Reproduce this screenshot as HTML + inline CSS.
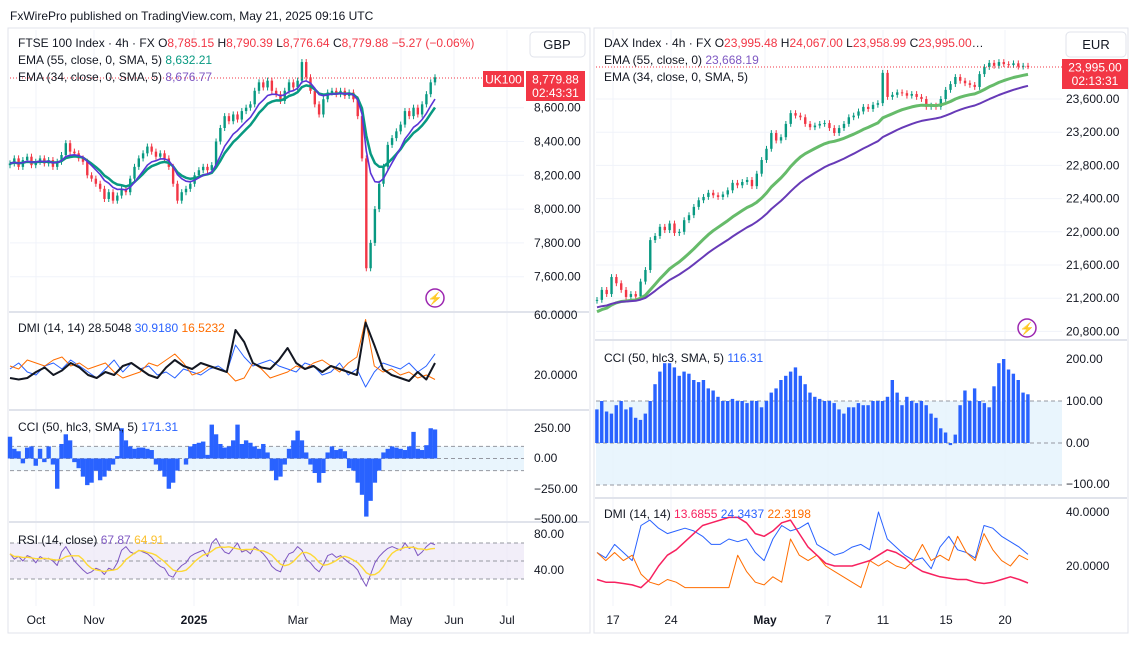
<!DOCTYPE html>
<html><head><meta charset="utf-8"><style>
body{margin:0;background:#fff;}
svg{display:block;font-family:"Liberation Sans",sans-serif;}
</style></head><body>
<svg id="c" width="1130" height="647" viewBox="0 0 1130 647" xmlns="http://www.w3.org/2000/svg">
<rect x="0" y="0" width="1130" height="647" fill="#fff"/>
<text x="10" y="20" font-size="12" fill="#131722">FxWirePro published on TradingView.com, May 21, 2025 09:16 UTC</text>
<rect x="8" y="28" width="582" height="605" fill="none" stroke="#e0e3eb"/>
<rect x="594" y="28" width="534" height="605" fill="none" stroke="#e0e3eb"/>
<g id="grid"></g>
<g id="marks"></g>
<g id="labels" font-size="12" fill="#131722"></g>
<!-- legends -->
<g font-size="12">
<text x="18" y="47" fill="#131722">FTSE 100 Index · 4h · FX  <tspan fill="#131722">O</tspan><tspan fill="#f23645">8,785.15</tspan> <tspan fill="#131722">H</tspan><tspan fill="#f23645">8,790.39</tspan> <tspan fill="#131722">L</tspan><tspan fill="#f23645">8,776.64</tspan> <tspan fill="#131722">C</tspan><tspan fill="#f23645">8,779.88 −5.27 (−0.06%)</tspan></text>
<text x="18" y="64" fill="#131722">EMA (55, close, 0, SMA, 5) <tspan fill="#089981">8,632.21</tspan></text>
<text x="18" y="81" fill="#131722">EMA (34, close, 0, SMA, 5) <tspan fill="#7e57c2">8,676.77</tspan></text>
<text x="18" y="332" fill="#131722">DMI (14, 14) 28.5048 <tspan fill="#2962ff">30.9180</tspan> <tspan fill="#ff6d00">16.5232</tspan></text>
<text x="18" y="431" fill="#131722">CCI (50, hlc3, SMA, 5) <tspan fill="#2962ff">171.31</tspan></text>
<text x="18" y="544" fill="#131722">RSI (14, close) <tspan fill="#7e57c2">67.87</tspan> <tspan fill="#fbc02d">64.91</tspan></text>
</g>
<g font-size="12">
<text x="604" y="47" fill="#131722">DAX Index · 4h · FX  O<tspan fill="#f23645">23,995.48</tspan> H<tspan fill="#f23645">24,067.00</tspan> L<tspan fill="#f23645">23,958.99</tspan> C<tspan fill="#f23645">23,995.00</tspan>…</text>
<text x="604" y="64" fill="#131722">EMA (55, close, 0) <tspan fill="#7e57c2">23,668.19</tspan></text>
<text x="604" y="81" fill="#131722">EMA (34, close, 0, SMA, 5)</text>
<text x="604" y="362" fill="#131722">CCI (50, hlc3, SMA, 5) <tspan fill="#2962ff">116.31</tspan></text>
<text x="604" y="518" fill="#131722">DMI (14, 14) <tspan fill="#f7215f">13.6855</tspan> <tspan fill="#2962ff">24.3437</tspan> <tspan fill="#ff6d00">22.3198</tspan></text>
</g>
<!-- currency buttons -->
<g><rect x="530" y="32" width="55" height="25" rx="4" fill="#fff" stroke="#e0e3eb"/><text x="557" y="49" font-size="13" text-anchor="middle" fill="#131722">GBP</text></g>
<g><rect x="1066" y="32" width="60" height="25" rx="4" fill="#fff" stroke="#e0e3eb"/><text x="1096" y="49" font-size="13" text-anchor="middle" fill="#131722">EUR</text></g>
<!-- price labels -->
<g><rect x="483" y="71" width="41" height="16" fill="#f23645"/><text x="503.5" y="83.5" font-size="12" text-anchor="middle" fill="#fff">UK100</text></g>
<g><rect x="526" y="71" width="59" height="30" fill="#f23645"/><text x="555.5" y="83.5" font-size="12" text-anchor="middle" fill="#fff">8,779.88</text><text x="555.5" y="97" font-size="12" text-anchor="middle" fill="#fff">02:43:31</text></g>
<g><rect x="1062" y="59" width="66" height="30" fill="#f23645"/><text x="1095" y="71.5" font-size="12" text-anchor="middle" fill="#fff">23,995.00</text><text x="1095" y="85" font-size="12" text-anchor="middle" fill="#fff">02:13:31</text></g>
<!-- lightning icons -->
<g><circle cx="435" cy="298" r="9" fill="#fff" stroke="#9c27b0" stroke-width="1.5"/><text x="435" y="302.5" font-size="12" text-anchor="middle" fill="#9c27b0">⚡</text></g>
<g><circle cx="1027" cy="328" r="9" fill="#fff" stroke="#9c27b0" stroke-width="1.5"/><text x="1027" y="332.5" font-size="12" text-anchor="middle" fill="#9c27b0">⚡</text></g>
</svg>
<script>
// ---------- FTSE data ----------
const ftseCloses=[8270,8300,8250,8290,8310,8260,8280,8300,8270,8290,8250,8280,8320,8390,8340,8330,8300,8280,8200,8180,8150,8120,8060,8100,8050,8080,8120,8100,8180,8250,8300,8330,8370,8340,8310,8330,8300,8250,8150,8050,8100,8120,8150,8200,8230,8250,8230,8260,8400,8480,8550,8520,8560,8530,8580,8600,8620,8700,8750,8720,8760,8700,8680,8640,8700,8750,8720,8760,8870,8780,8700,8620,8560,8650,8690,8700,8680,8700,8670,8690,8650,8550,8300,7650,7800,8000,8150,8250,8380,8420,8460,8500,8580,8550,8600,8560,8620,8680,8750,8780];
const ftseTicks=[8600,8400,8200,8000,7800,7600];
const ftseAdx=[18,17,18,22,25,20,23,28,25,20,18,22,20,26,28,24,20,18,25,30,26,24,28,26,24,22,50,42,28,25,24,30,38,28,24,26,22,26,24,22,20,55,40,24,20,18,16,22,17,28];
const ftsePdi=[24,28,22,20,26,28,24,30,26,22,18,24,30,22,28,24,26,20,22,18,24,22,20,24,26,22,40,32,26,28,30,26,24,22,28,26,20,22,28,20,24,12,22,28,26,24,28,22,26,34];
const ftseMdi=[26,24,30,28,26,30,32,26,28,24,26,28,22,18,20,22,28,26,30,34,28,20,22,26,24,22,16,18,28,24,18,20,22,26,24,28,30,26,22,28,32,57,26,22,24,20,22,18,20,17];
const ftseCci=[180,80,60,-40,90,100,-60,80,-30,100,-50,-250,120,200,150,-30,-80,-150,-220,-200,-100,-180,-150,-100,-50,20,250,150,100,80,90,90,80,70,-50,-100,-150,-250,-200,-100,0,-50,100,120,130,140,30,280,200,120,90,100,150,280,120,150,130,100,80,120,50,-100,-180,-150,-50,80,150,230,150,50,-50,-120,-200,-120,50,100,70,80,60,-80,-100,-200,-300,-480,-350,-200,-100,50,80,100,90,80,70,100,220,80,70,110,250,240];
const ftseRsi=[58,52,55,50,56,54,48,55,52,53,50,45,60,66,58,50,45,40,36,38,42,40,35,42,40,48,62,66,60,58,62,60,58,54,48,44,42,34,32,40,45,48,55,58,60,62,55,70,75,66,60,58,64,70,60,62,58,66,62,58,52,44,40,38,50,58,60,66,62,52,48,42,38,46,56,58,54,56,52,48,45,40,30,22,35,48,55,60,64,66,64,62,70,64,66,56,60,66,70,68];
const ftseXLabels=["Oct","Nov","2025","Mar","May","Jun","Jul"];
const ftseXLabelPos=[36,94,194,298,401,454,507];
// ---------- DAX data ----------
const daxCloses=[21180,21300,21250,21455,21380,21300,21215,21250,21220,21400,21540,21900,21950,22060,22020,22100,21985,22000,22140,22200,22300,22380,22420,22470,22440,22420,22450,22500,22590,22560,22600,22625,22550,22700,22865,23000,23190,23100,23140,23300,23430,23400,23380,23300,23260,23280,23300,23310,23250,23190,23250,23300,23380,23400,23450,23505,23480,23530,23550,23915,23625,23650,23680,23670,23640,23660,23625,23600,23505,23520,23505,23600,23710,23780,23865,23820,23790,23770,23745,23900,23985,24035,24000,24045,24020,24010,24030,23990,24000,23995];
const daxTicks=[23600,23200,22800,22400,22000,21600,21200,20800];
const daxCci=[80,100,75,70,90,100,80,85,60,55,70,100,140,170,190,190,180,160,170,165,150,145,150,130,125,110,100,100,105,100,100,95,100,100,85,100,120,130,150,160,170,180,160,140,120,110,105,100,100,95,80,70,85,85,95,90,90,100,100,100,110,150,120,90,110,100,95,100,90,70,60,35,25,-5,20,90,125,100,130,100,95,85,135,190,200,175,165,150,120,116];
const daxAdx=[15,14,14,13.5,13,12,15,20,24,26,29,32,35,36,37,38,38,36,32,31,33,36,37,32,27,24,21,20,20,20,21,22,24,26,25,23,20,18,17,16,15.5,15,15,14,13.5,14,15,16,15,13.7];
const daxPdi=[25,23,28,25,22,35,37,34,32,33,34,33,31,28,28,30,29,30,25,22,30,35,33,34,36,28,26,24,25,27,28,26,40,30,27,24,22,23,19,27,31,26,25,23,35,34,31,29,27,24.3];
const daxMdi=[25,22,25,22,24,17,14,13,15,14,12,12,12,12,12,12,24,18,14,13,16,14,30,24,22,24,20,18,16,14,12,22,20,22,20,19,22,28,22,24,22,31,25,22,32,26,22,20,24,22.3];
const daxXLabels=["17","24","May","7","11","15","20"];
const daxXLabelPos=[613,671,765,828,883,946,1005];

const NS="http://www.w3.org/2000/svg";
const G=document.getElementById('grid'),M=document.getElementById('marks'),L=document.getElementById('labels');
function mk(tag,attrs,parent){const e=document.createElementNS(NS,tag);for(const k in attrs)e.setAttribute(k,attrs[k]);parent.appendChild(e);return e;}
function txt(s,x,y,attrs,parent){const e=mk('text',Object.assign({x:x,y:y},attrs||{}),parent||L);e.textContent=s;return e;}
function line(x1,y1,x2,y2,st,parent){return mk('line',Object.assign({x1:x1,y1:y1,x2:x2,y2:y2},st),parent||G);}
function poly(vals,xf,yf,color,w,name){
  const pts=vals.map((v,i)=>xf(i,vals.length).toFixed(1)+','+yf(v).toFixed(1)).join(' ');
  const p=mk('polyline',{points:pts,fill:'none',stroke:color,'stroke-width':w,'stroke-linejoin':'round'},M);
  
  
  return p;
}
function ema(vals,a,seed){const out=[];let e=seed;vals.forEach(v=>{e=a*v+(1-a)*e;out.push(e);});return out;}
function sma(vals,n){return vals.map((v,i)=>{let s=0,c=0;for(let j=Math.max(0,i-n+1);j<=i;j++){s+=vals[j];c++;}return s/c;});}

const LX0=10,LX1=435,LR=524;
const xL=(i,n)=>LX0+i*(LX1-LX0)/(n-1);
const yLP=p=>107.7+(8600-p)*0.169;
const yLD=v=>375-(v-20)*1.5;
const yLC=v=>458.5-v*0.121;
const yLR=v=>570-(v-40)*0.9;
const RX0=597,RX1=1028,RR=1062;
const xR=(i,n)=>RX0+i*(RX1-RX0)/(n-1);
const yRP=p=>99+(23600-p)*0.0830;
const yRC=v=>443-v*0.42;
const yRD=v=>566-(v-20)*2.7;

ftseXLabelPos.forEach(x=>line(x,30,x,606,{stroke:'#f0f3fa'}));
daxXLabelPos.forEach(x=>line(x,30,x,606,{stroke:'#f0f3fa'}));
ftseTicks.forEach(t=>line(10,yLP(t),LR,yLP(t),{stroke:'#f0f3fa'}));
daxTicks.forEach(t=>line(596,yRP(t),RR,yRP(t),{stroke:'#f0f3fa'}));
[312,410,522].forEach(y=>line(9,y,589,y,{stroke:'#e0e3eb','stroke-width':2}));
[340,498].forEach(y=>line(595,y,1127,y,{stroke:'#e0e3eb','stroke-width':2}));
mk('rect',{x:10,y:yLC(100),width:LR-10,height:yLC(-100)-yLC(100),fill:'#e3f2fd',opacity:0.8},G);
mk('rect',{x:10,y:yLR(70),width:LR-10,height:yLR(30)-yLR(70),fill:'#ede7f6',opacity:0.7},G);
mk('rect',{x:596,y:yRC(100),width:RR-596,height:yRC(-100)-yRC(100),fill:'#e3f2fd',opacity:0.8},G);
[100,0,-100].forEach(v=>line(10,yLC(v),LR,yLC(v),{stroke:'#9598a1','stroke-dasharray':'4,3'}));
[70,50,30].forEach(v=>line(10,yLR(v),LR,yLR(v),{stroke:'#9598a1','stroke-dasharray':'4,3'}));
[100,0,-100].forEach(v=>line(596,yRC(v),RR,yRC(v),{stroke:'#9598a1','stroke-dasharray':'4,3'}));

function candles(cl,xf,yf,wick,w,nm){
  cl.forEach((c,i)=>{
    const o=i?cl[i-1]:c-10, up=c>=o, col=up?'#089981':'#f23645';
    const x=xf(i,cl.length), hi=Math.max(o,c)+wick, lo=Math.min(o,c)-wick;
    const g=mk('g',{},M);
    
    
    mk('line',{x1:x,x2:x,y1:yf(hi),y2:yf(lo),stroke:col,'stroke-width':1},g);
    const y1=yf(Math.max(o,c)),y2=yf(Math.min(o,c));
    mk('rect',{x:x-w/2,y:y1,width:w,height:Math.max(1,y2-y1),fill:col},g);
  });
}
candles(ftseCloses,xL,yLP,18,2.4,'ftse-candle');
poly(ema(ftseCloses,0.17,8270),xL,yLP,'#089981',2.5,'ftse-ema55-line');
poly(ema(ftseCloses,0.24,8270),xL,yLP,'#5b34d6',1.6,'ftse-ema34-line');
poly(ftsePdi,xL,yLD,'#2962ff',1,'ftse-dmi-plus');
poly(ftseMdi,xL,yLD,'#ff6d00',1,'ftse-dmi-minus');
poly(ftseAdx,xL,yLD,'#131722',2,'ftse-adx');
ftseCci.forEach((v,i)=>{const x=xL(i,ftseCci.length);const r=mk('rect',{x:x-2.2,y:Math.min(yLC(v),yLC(0)),width:4.4,height:Math.abs(yLC(v)-yLC(0)),fill:'#2962ff'},M);

});
poly(ftseRsi,xL,yLR,'#7e57c2',1,'ftse-rsi-line');
poly(sma(ftseRsi,5),xL,yLR,'#fdd835',1.4,'ftse-rsi-ma-line');

candles(daxCloses,xR,yRP,35,2.4,'dax-candle');
poly(ema(daxCloses,0.1,21020),xR,yRP,'#66bb6a',3,'dax-ema34-line');
poly(ema(daxCloses,0.06,21085),xR,yRP,'#673ab7',2,'dax-ema55-line');
daxCci.forEach((v,i)=>{const x=xR(i,daxCci.length);const r=mk('rect',{x:x-1.8,y:Math.min(yRC(v),yRC(0)),width:3.4,height:Math.abs(yRC(v)-yRC(0)),fill:'#2962ff'},M);

});
poly(daxPdi,xR,yRD,'#2962ff',1,'dax-dmi-plus');
poly(daxMdi,xR,yRD,'#ff6d00',1,'dax-dmi-minus');
poly(daxAdx,xR,yRD,'#f7215f',1.5,'dax-adx');

line(10,78,483,78,{stroke:'#f23645','stroke-dasharray':'1,2'},M);
line(596,67,RR,67,{stroke:'#f23645','stroke-dasharray':'1,2'},M);

ftseTicks.forEach(t=>txt(t.toLocaleString('en-US',{minimumFractionDigits:2}),534,yLP(t)+4));
daxTicks.forEach(t=>txt(t.toLocaleString('en-US',{minimumFractionDigits:2}),1066,yRP(t)+4));
[["60.0000",315],["20.0000",375],["250.00",428],["0.00",458],["\u2212250.00",489],["\u2212500.00",519],["80.00",534],["40.00",570]].forEach(a=>txt(a[0],534,a[1]+4));
[["200.00",359],["100.00",401],["0.00",443],["\u2212100.00",484],["40.0000",512],["20.0000",566]].forEach(a=>txt(a[0],1066,a[1]+4));
ftseXLabels.forEach((s,i)=>txt(s,ftseXLabelPos[i],624,{'text-anchor':'middle','font-weight':s==='2025'?'bold':'normal'}));
daxXLabels.forEach((s,i)=>txt(s,daxXLabelPos[i],624,{'text-anchor':'middle','font-weight':s==='May'?'bold':'normal'}));
</script>
</body></html>
